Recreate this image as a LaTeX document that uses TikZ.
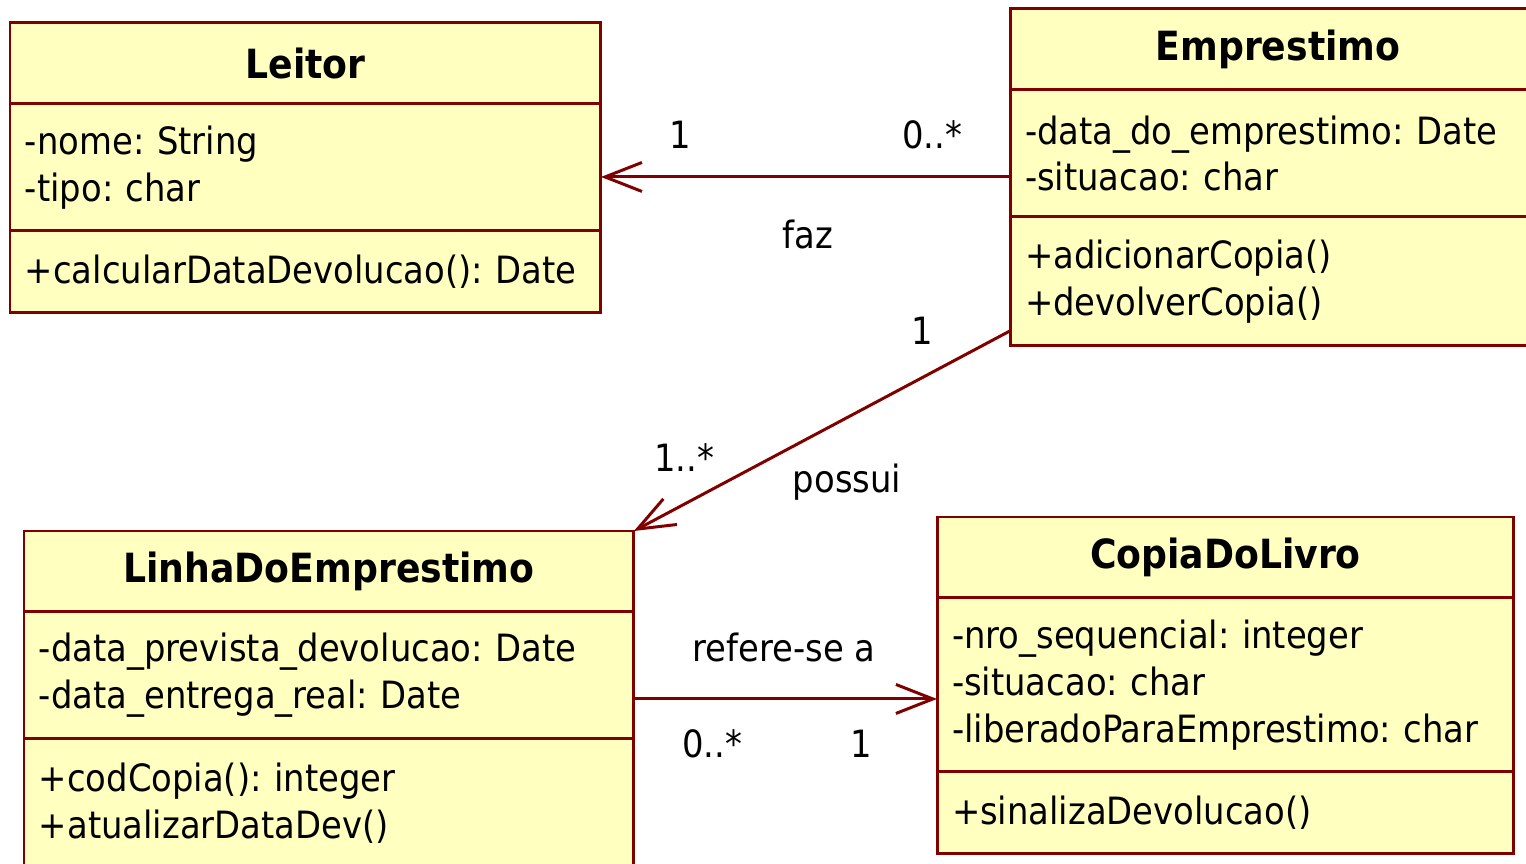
\documentclass[tikz,border=0pt]{standalone}
\usepackage{fontspec}
\setmainfont{DejaVu Sans Condensed}
\usetikzlibrary{positioning,arrows.meta}
\definecolor{umlred}{RGB}{128,0,0}
\definecolor{umlyellow}{RGB}{255,255,192}
\frenchspacing

\begin{document}
\begin{tikzpicture}[x=0.02cm, y=-0.02cm,
    umlfont/.style={font=\fontsize{21.4}{26.7}\selectfont},
    classpart/.style={draw=umlred, fill=umlyellow, line width=1.7pt, outer sep=0pt,
        inner xsep=0.3cm, inner ysep=0pt, align=left, umlfont},
    classtitle/.style={classpart, align=center, minimum height=1.62cm,
        font=\fontsize{22.9}{26.7}\selectfont\bfseries},
    assoc/.style={umlred, line width=1.7pt, -{Straight Barb[length=0.74cm, width=0.58cm]}},
    mult/.style={anchor=base, umlfont}]
            \useasboundingbox (0,0) rectangle (1526,864);
            \node[classtitle, minimum width=11.82cm, anchor=north west] (leiH) at (10,23) {Leitor};
            \node[classpart, text width=11.22cm, minimum height=2.54cm, below=0pt of leiH] (leiA) {-nome: String\\-tipo: char};
            \node[classpart, text width=11.22cm, minimum height=1.64cm, below=0pt of leiA] (leiM) {+calcularDataDevolucao(): Date};
            \node[classtitle, minimum width=10.72cm, anchor=north west] (empH) at (1010,9) {Emprestimo};
            \node[classpart, text width=10.12cm, minimum height=2.54cm, below=0pt of empH] (empA) {-data\_do\_emprestimo: Date\\-situacao: char};
            \node[classpart, text width=10.12cm, minimum height=2.58cm, below=0pt of empA] (empM) {+adicionarCopia()\\+devolverCopia()};
            \node[classtitle, minimum width=12.2cm, anchor=north west] (linH) at (24,531) {LinhaDoEmprestimo};
            \node[classpart, text width=11.6cm, minimum height=2.54cm, below=0pt of linH] (linA) {-data\_prevista\_devolucao: Date\\-data\_entrega\_real: Date};
            \node[classpart, text width=11.6cm, minimum height=2.58cm, below=0pt of linA] (linM) {+codCopia(): integer\\+atualizarDataDev()};
            \node[classtitle, minimum width=11.54cm, anchor=north west] (copH) at (937,517) {CopiaDoLivro};
            \node[classpart, text width=10.94cm, minimum height=3.48cm, below=0pt of copH] (copA) {-nro\_sequencial: integer\\-situacao: char\\-liberadoParaEmprestimo: char};
            \node[classpart, text width=10.94cm, minimum height=1.64cm, below=0pt of copA] (copM) {+sinalizaDevolucao()};
            \coordinate (fazStart) at ([yshift=-0.47cm]empA.west);
            \draw[assoc] (fazStart) -- (fazStart -| leiA.east);
            \draw[assoc] ([yshift=0.3cm]empM.south west) -- (linH.north east);
            \coordinate (refStart) at ([yshift=-0.47cm]linA.east);
            \draw[assoc] (refStart) -- (refStart -| copA.west);
            \node[mult] (fazLei) at (680,149) {1};
            \node[mult] (fazEmp) at (932,149) {0..*};
            \node[mult] (fazLbl) at (808,249) {faz};
            \node[mult] (posEmp) at (922,345) {1};
            \node[mult] (posLin) at (684,472) {1..*};
            \node[mult] (posLbl) at (847,493) {possui};
            \node[mult] (refLbl) at (784,662) {refere-se a};
            \node[mult] (refLin) at (712,758) {0..*};
            \node[mult] (refCop) at (861,758) {1};
        \end{tikzpicture}
\end{document}
